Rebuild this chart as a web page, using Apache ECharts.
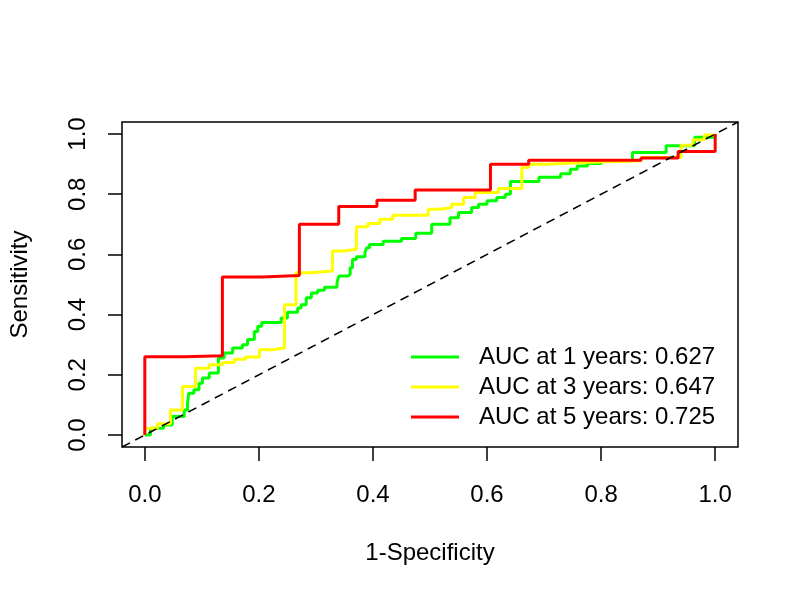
<!DOCTYPE html>
<html>
<head>
<meta charset="utf-8">
<script src="https://cdn.jsdelivr.net/npm/echarts@6/dist/echarts.min.js"></script>
<style>html,body{margin:0;padding:0;background:#fff}#c{width:800px;height:600px}</style>
</head>
<body>
<div id="c"></div>
<script>
// ---- data ----
const seriesNames = ['AUC at 1 years: 0.627', 'AUC at 3 years: 0.647', 'AUC at 5 years: 0.725'];
const seriesColors = ['#00ff00', '#ffff00', '#ff0000'];

// 1 year (green): ROC corner points (FPR, TPR)
const fpr1 = [0, 0.010, 0.033, 0.048, 0.069, 0.075, 0.077, 0.086, 0.095, 0.101, 0.113, 0.129, 0.139, 0.154, 0.171, 0.180, 0.192, 0.198, 0.205, 0.239, 0.250, 0.268, 0.274, 0.283, 0.292, 0.303, 0.315, 0.337, 0.340, 0.356, 0.360, 0.364, 0.371, 0.386, 0.389, 0.394, 0.418, 0.450, 0.475, 0.503, 0.535, 0.550, 0.573, 0.585, 0.600, 0.617, 0.632, 0.641, 0.691, 0.729, 0.746, 0.758, 0.776, 0.800, 0.855, 0.914, 0.964, 1.000];
const tpr1 = [0, 0.022, 0.033, 0.061, 0.083, 0.106, 0.139, 0.150, 0.172, 0.189, 0.206, 0.256, 0.272, 0.289, 0.300, 0.317, 0.344, 0.361, 0.374, 0.389, 0.408, 0.422, 0.433, 0.456, 0.472, 0.481, 0.491, 0.506, 0.528, 0.533, 0.556, 0.583, 0.592, 0.606, 0.622, 0.633, 0.644, 0.653, 0.670, 0.700, 0.722, 0.739, 0.756, 0.767, 0.778, 0.789, 0.800, 0.842, 0.856, 0.868, 0.883, 0.894, 0.902, 0.911, 0.939, 0.961, 0.989, 1.000];

// 3 years (yellow)
const fpr3 = [0, 0, 0.022, 0.045, 0.066, 0.089, 0.113, 0.136, 0.157, 0.177, 0.201, 0.224, 0.245, 0.265, 0.289, 0.329, 0.350, 0.371, 0.391, 0.412, 0.435, 0.497, 0.518, 0.538, 0.559, 0.579, 0.620, 0.661, 0.673, 0.702, 0.782, 0.870, 0.940, 0.961, 0.981, 1.000];
const tpr3 = [0, 0.022, 0.037, 0.083, 0.161, 0.222, 0.233, 0.241, 0.252, 0.259, 0.283, 0.289, 0.433, 0.539, 0.545, 0.611, 0.617, 0.692, 0.703, 0.717, 0.730, 0.750, 0.756, 0.767, 0.789, 0.806, 0.819, 0.889, 0.900, 0.906, 0.911, 0.922, 0.963, 0.981, 0.997, 1.000];

// 5 years (red)
const fpr5 = [0, 0, 0.069, 0.136, 0.206, 0.271, 0.340, 0.407, 0.474, 0.606, 0.673, 0.870, 0.935, 1.000];
const tpr5 = [0, 0.260, 0.263, 0.525, 0.530, 0.700, 0.759, 0.780, 0.814, 0.900, 0.913, 0.920, 0.942, 1.000];

// reference diagonal (abline 0,1) across plot range
const diagX = [-0.04, 1.04];
const diagY = [-0.04, 1.04];

const tickValues = [0, 0.2, 0.4, 0.6, 0.8, 1.0];
const axisMin = -0.04, axisMax = 1.04;
const xTitle = '1-Specificity';
const yTitle = 'Sensitivity';

// ---- build ----
const zip = (a, b) => a.map((v, i) => [v, b[i]]);
const curves = [[fpr1, tpr1], [fpr3, tpr3], [fpr5, tpr5]];
const FONT = "'Liberation Sans', Arial, Helvetica, sans-serif";

const series = curves.map((c, i) => ({
  name: seriesNames[i],
  type: 'line',
  step: 'end',
  symbol: 'none',
  data: zip(c[0], c[1]),
  lineStyle: { color: seriesColors[i], width: 3 },
  itemStyle: { color: seriesColors[i] },
  z: 2 + i,
  animation: false
}));
series.push({
  name: 'diag',
  type: 'line',
  symbol: 'none',
  data: zip(diagX, diagY),
  lineStyle: { color: '#000', width: 1.5, type: [9, 6] },
  z: 10,
  animation: false
});

const chart = echarts.init(document.getElementById('c'), null, { renderer: 'canvas' });
chart.setOption({
  backgroundColor: '#fff',
  animation: false,
  grid: { left: 122, top: 122, width: 616, height: 325, show: true, borderColor: '#000', borderWidth: 1.5, backgroundColor: 'transparent' },
  legend: {
    data: seriesNames,
    orient: 'vertical',
    left: 411, top: 342,
    padding: 0,
    itemGap: 0,
    itemWidth: 48,
    itemHeight: 3,
    icon: 'rect',
    textStyle: { fontSize: 24, fontFamily: FONT, color: '#000', lineHeight: 30, padding: [0, 0, 0, 15] }
  },
  xAxis: {
    type: 'value', min: axisMin, max: axisMax,
    axisLine: { show: false, onZero: false },
    splitLine: { show: false },
    axisTick: { show: true, inside: false, length: 14, customValues: tickValues, lineStyle: { color: '#000', width: 1.5 } },
    axisLabel: { customValues: tickValues, margin: 36, fontSize: 24, fontFamily: FONT, color: '#000', formatter: v => v.toFixed(1) },
    name: xTitle, nameLocation: 'middle', nameGap: 94,
    nameTextStyle: { fontSize: 24, fontFamily: FONT, color: '#000' }
  },
  yAxis: {
    type: 'value', min: axisMin, max: axisMax,
    axisLine: { show: false, onZero: false },
    splitLine: { show: false },
    axisTick: { show: true, inside: false, length: 14, customValues: tickValues, lineStyle: { color: '#000', width: 1.5 } },
    axisLabel: { customValues: tickValues, rotate: 90, margin: 32, fontSize: 24, fontFamily: FONT, color: '#000', formatter: v => v.toFixed(1) },
    name: yTitle, nameLocation: 'middle', nameGap: 90, nameRotate: 90,
    nameTextStyle: { fontSize: 24, fontFamily: FONT, color: '#000' }
  },
  series: series
});
</script>
</body>
</html>
